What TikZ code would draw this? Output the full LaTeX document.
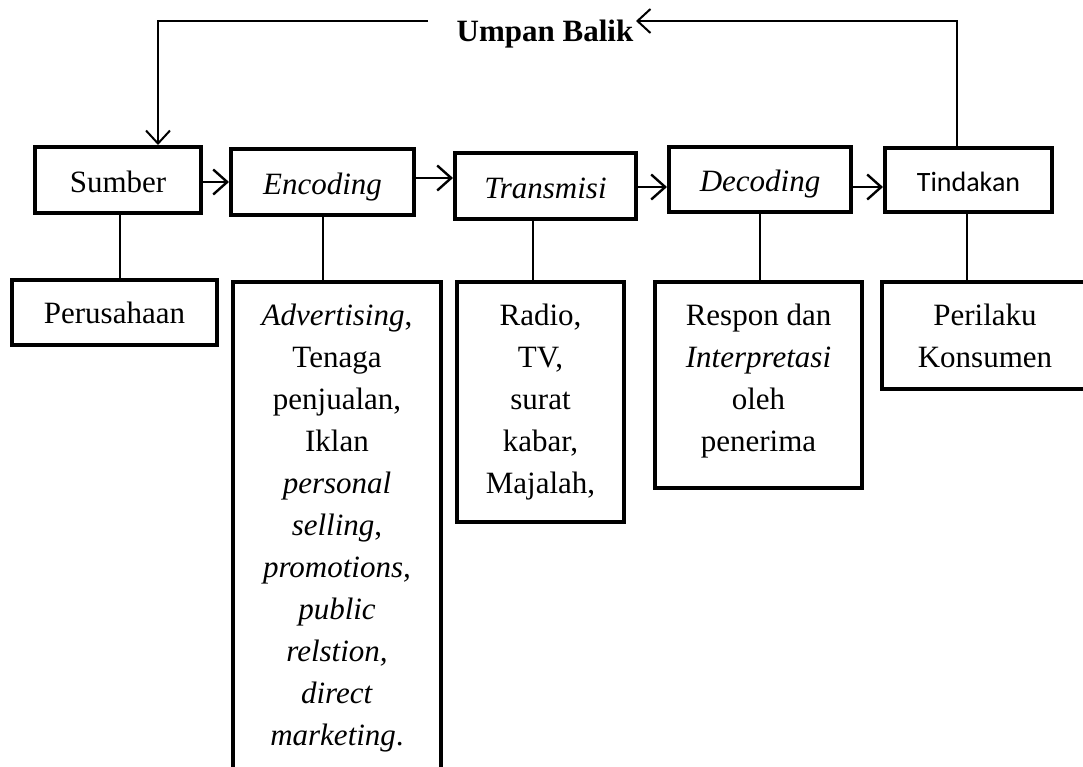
\documentclass[tikz,border=0pt]{standalone}
\usepackage{fontspec}
\setmainfont{Liberation Serif}
\newfontfamily\calfont{Carlito}
\usetikzlibrary{arrows.meta,calc}
\begin{document}
\begin{tikzpicture}[x=1pt,y=-1pt,
  box/.style={draw,line width=4pt,inner sep=0pt,align=center,font=\fontsize{31}{42}\selectfont},
  topbox/.style={box,text height=24pt,text depth=0pt},
  conn/.style={line width=2pt},
  arr/.style={line width=2.6pt,-{Straight Barb[length=14pt,width=25pt,line width=2.4pt]}},
  fbarr/.style={line width=2pt,-{Straight Barb[length=13pt,width=24pt,line width=2pt]}}]
\useasboundingbox (0,0) rectangle (1083,766);
\clip (0,0) rectangle (1083,766);
% top row
\node[topbox,minimum width=166pt,minimum height=66pt] (sumber) at (118,180) {Sumber};
\node[topbox,minimum width=183pt,minimum height=66pt] (encoding) at (322.5,182) {\itshape Encoding};
\node[topbox,minimum width=181pt,minimum height=66pt] (transmisi) at (545.5,186) {\itshape Transmisi};
\node[topbox,minimum width=182pt,minimum height=65pt] (decoding) at (760,179.5) {\itshape Decoding};
\node[box,minimum width=167pt,minimum height=64pt,text height=22pt,text depth=0pt,font=\calfont\fontsize{28}{34}\selectfont] (tindakan) at (968.5,180) {Tindakan};
% bottom row
\node[box,minimum width=205pt,minimum height=65pt] (perusahaan) at (114.5,312.5) {Perusahaan};
\node[box,minimum width=208pt,minimum height=492pt,anchor=north] (enclist) at (337,280)
  {\textit{Advertising},\\Tenaga\\penjualan,\\Iklan\\\textit{personal}\\\textit{selling},\\\textit{promotions,}\\\textit{public}\\\textit{relstion,}\\\textit{direct}\\\textit{marketing}.};
\node[box,minimum width=167pt,minimum height=240pt] (radio) at (540.5,402) {Radio,\\TV,\\surat\\kabar,\\Majalah,};
\node[box,minimum width=207pt,minimum height=206pt] (respon) at (758.5,385) {Respon dan\\\textit{Interpretasi}\\oleh\\penerima\rule[-14pt]{0pt}{0pt}};
\node[box,minimum width=206pt,minimum height=107pt] (perilaku) at (985,335.5) {Perilaku\\Konsumen};
% feedback label
\node[font=\bfseries\fontsize{31}{36}\selectfont,inner sep=0pt] (umpan) at (545,34) {Umpan Balik};
\coordinate (fbA) at (636,21);
\coordinate (fbB) at (428,21);
\coordinate (fbL) at (158,21);
\coordinate (fbR) at (957,21);
% connector x positions
\coordinate (xs) at (120,0);
\coordinate (xt) at (533,0);
\coordinate (xk) at (967,0);
% horizontal arrows
\draw[arr] (sumber.east |- 0,182) -- (encoding.west |- 0,182);
\draw[arr] (encoding.east |- 0,178) -- (transmisi.west |- 0,178);
\draw[arr] (transmisi.east |- 0,187) -- (decoding.west |- 0,187);
\draw[arr] (decoding.east |- 0,187) -- (tindakan.west |- 0,187);
% vertical connectors
\draw[conn] (sumber.south -| xs) -- (perusahaan.north -| xs);
\draw[conn] (encoding.south) -- (encoding.south |- enclist.north);
\draw[conn] (transmisi.south -| xt) -- (radio.north -| xt);
\draw[conn] (decoding.south) -- (decoding.south |- respon.north);
\draw[conn] (tindakan.south -| xk) -- (perilaku.north -| xk);
% feedback loop
\draw[fbarr] (tindakan.north -| fbR) -- (fbR) -- (fbA);
\draw[fbarr] (fbB) -- (fbL) -- (sumber.north -| fbL);
\end{tikzpicture}
\end{document}
